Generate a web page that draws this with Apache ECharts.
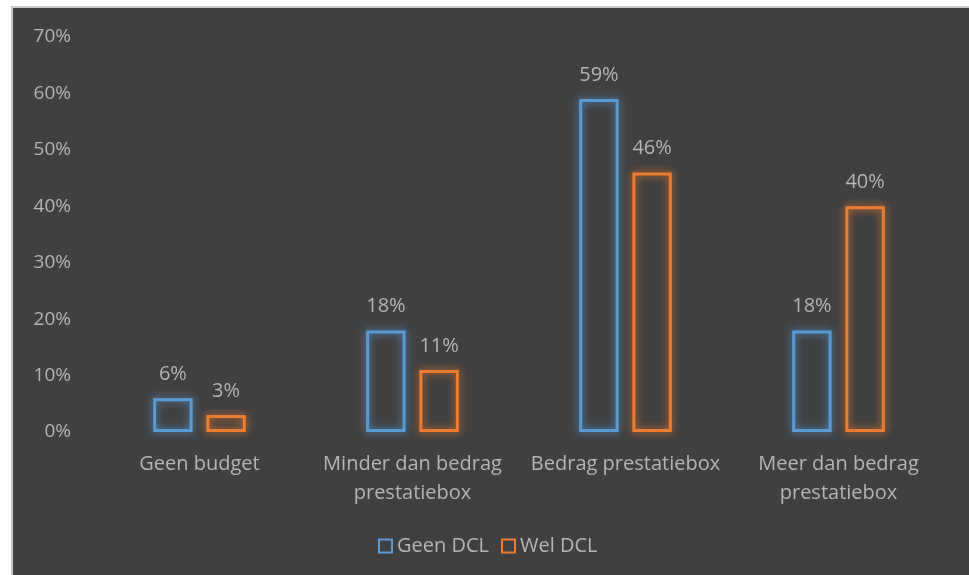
<!DOCTYPE html>
<html>
<head>
<meta charset="utf-8">
<script src="https://cdn.jsdelivr.net/npm/echarts@6/dist/echarts.min.js"></script>
<style>
  html, body { margin: 0; padding: 0; background: #fff; }
  #frame {
    position: absolute; left: 11px; top: 6px;
    width: 956px; height: 567px;
    border-left: 2px solid #c8c8c8; border-top: 2px solid #c8c8c8;
    background: #404040;
  }
  #chart { width: 956px; height: 567px; }
</style>
</head>
<body>
<div id="frame"><div id="chart"></div></div>
<script>
var categories = ['Geen budget', 'Minder dan bedrag\nprestatiebox', 'Bedrag prestatiebox', 'Meer dan bedrag\nprestatiebox']
var geenDCL = [6, 18, 59, 18]
var welDCL = [3, 11, 46, 40]
var yTicks = [0, 10, 20, 30, 40, 50, 60, 70]

var textColor = '#b4b4b4'
var font = '"Open Sans", "Noto Sans", sans-serif'

function barSeries(name, data, color) {
  return {
    name: name,
    type: 'bar',
    data: data,
    barWidth: '18.5%',
    barGap: '35%',
    itemStyle: {
      color: 'rgba(0,0,0,0)',
      borderColor: color,
      borderWidth: 3,
      shadowBlur: 8,
      shadowColor: color
    },
    label: {
      show: true,
      position: 'top',
      distance: 14,
      formatter: '{c}%',
      color: textColor,
      fontSize: 20,
      fontFamily: font
    }
  }
}

var chart = echarts.init(document.getElementById('chart'))
chart.setOption({
  backgroundColor: '#404040',
  animation: false,
  grid: { left: 80, right: 24, top: 29, bottom: 143 },
  legend: {
    bottom: 14,
    left: 360,
    itemWidth: 13,
    itemHeight: 13,
    itemGap: 12,
    icon: 'rect',
    textStyle: { color: textColor, fontSize: 20, fontFamily: font, padding: [0, 0, 0, 0] },
    data: [
      { name: 'Geen DCL', itemStyle: { color: 'rgba(0,0,0,0)', borderColor: '#5b9bd5', borderWidth: 2, shadowBlur: 0 } },
      { name: 'Wel DCL', itemStyle: { color: 'rgba(0,0,0,0)', borderColor: '#ed7d31', borderWidth: 2, shadowBlur: 0 } }
    ]
  },
  xAxis: {
    type: 'category',
    data: categories,
    axisLine: { show: false },
    axisTick: { show: false },
    axisLabel: {
      interval: 0,
      color: textColor,
      fontSize: 20,
      fontFamily: font,
      margin: 18,
      lineHeight: 29
    }
  },
  yAxis: {
    type: 'value',
    min: yTicks[0],
    max: yTicks[yTicks.length - 1],
    interval: 10,
    splitLine: { show: false },
    axisLine: { show: false },
    axisTick: { show: false },
    axisLabel: {
      formatter: '{value}%',
      color: textColor,
      fontSize: 19,
      fontFamily: font,
      margin: 22
    }
  },
  series: [
    barSeries('Geen DCL', geenDCL, '#5b9bd5'),
    barSeries('Wel DCL', welDCL, '#ed7d31')
  ]
})
</script>
</body>
</html>
